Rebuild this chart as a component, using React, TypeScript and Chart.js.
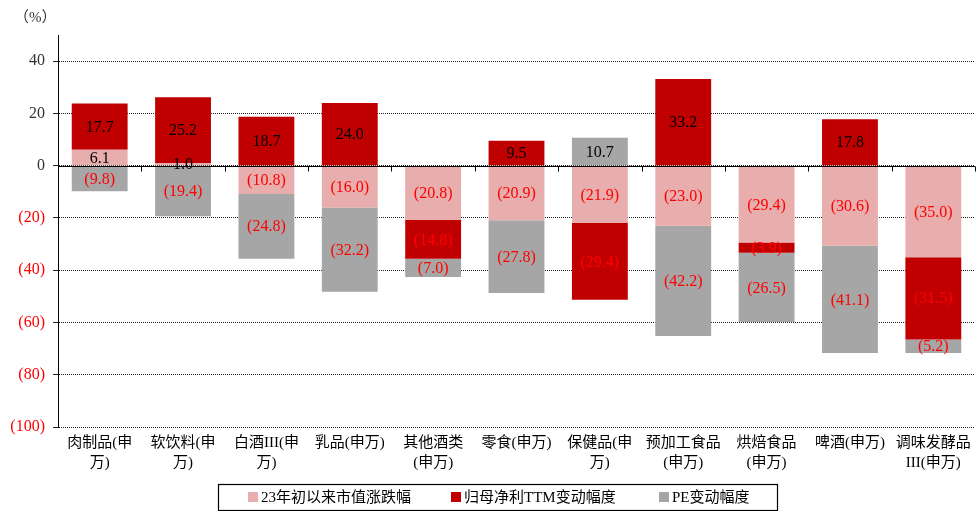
import React, { useEffect, useRef } from "react";
import { Chart, registerables } from "chart.js";

Chart.register(...registerables);

const categories: string[][] = [
  ["肉制品(申", "万)"],
  ["软饮料(申", "万)"],
  ["白酒III(申", "万)"],
  ["乳品(申万)"],
  ["其他酒类", "(申万)"],
  ["零食(申万)"],
  ["保健品(申", "万)"],
  ["预加工食品", "(申万)"],
  ["烘焙食品", "(申万)"],
  ["啤酒(申万)"],
  ["调味发酵品", "III(申万)"],
];

const marketCapChange = [6.1, 1.0, -10.8, -16.0, -20.8, -20.9, -21.9, -23.0, -29.4, -30.6, -35.0];
const netProfitTTMChange = [17.7, 25.2, 18.7, 24.0, -14.8, 9.5, -29.4, 33.2, -3.9, 17.8, -31.5];
const peChange = [-9.8, -19.4, -24.8, -32.2, -7.0, -27.8, 10.7, -42.2, -26.5, -41.1, -5.2];

const seriesNames = ["23年初以来市值涨跌幅", "归母净利TTM变动幅度", "PE变动幅度"];
const seriesColors = ["#E8ADAD", "#C00000", "#A6A6A6"];

const yMin = -100;
const yMax = 50;
const yStep = 20;

const FONT = '"Liberation Serif", "Noto Sans CJK SC", serif';
const NEG_RED = "#FF0000";

const fmt = (v: number, digits: number) =>
  v < 0 ? `(${Math.abs(v).toFixed(digits)})` : v.toFixed(digits);

const overlayPlugin = {
  id: "overlay",
  afterDatasetsDraw(chart: any) {
    const ctx = chart.ctx;
    const { left, right } = chart.chartArea;
    const yScale = chart.scales.y;
    const y0 = Math.round(yScale.getPixelForValue(0)) + 0.5;
    ctx.save();
    ctx.strokeStyle = "#000";
    ctx.lineWidth = 1;
    ctx.beginPath();
    ctx.moveTo(left, y0);
    ctx.lineTo(right, y0);
    const n = categories.length;
    const w = (right - left) / n;
    for (let i = 1; i <= n; i++) {
      const x = Math.round(left + i * w) + 0.5;
      ctx.moveTo(x, y0);
      ctx.lineTo(x, y0 + 5);
    }
    ctx.stroke();

    ctx.font = `16px ${FONT}`;
    ctx.textAlign = "center";
    ctx.textBaseline = "middle";
    chart.data.datasets.forEach((ds: any, di: number) => {
      const meta = chart.getDatasetMeta(di);
      meta.data.forEach((el: any, i: number) => {
        const v = ds.data[i] as number;
        const cy = (el.y + el.base) / 2;
        ctx.fillStyle = v < 0 ? NEG_RED : "#000";
        ctx.fillText(fmt(v, 1), el.x, cy + 1);
      });
    });
    ctx.restore();
  },
  afterDraw(chart: any) {
    const ctx = chart.ctx;
    ctx.save();
    ctx.font = `15px ${FONT}`;
    ctx.fillStyle = "#333";
    ctx.textAlign = "left";
    ctx.textBaseline = "middle";
    ctx.fillText("（%）", 14, 18);

    const bx = 218.5, by = 484.5, bw = 559, bh = 26;
    ctx.strokeStyle = "#000";
    ctx.lineWidth = 1.2;
    ctx.strokeRect(bx, by, bw, bh);
    const itemX = [248, 451, 659];
    ctx.font = `15px ${FONT}`;
    seriesNames.forEach((name, i) => {
      ctx.fillStyle = seriesColors[i];
      ctx.fillRect(itemX[i], 492, 10, 10);
      ctx.fillStyle = "#000";
      ctx.fillText(name, itemX[i] + 13, 498);
    });
    ctx.restore();
  },
};

export default function App() {
  const canvasRef = useRef<HTMLCanvasElement | null>(null);

  useEffect(() => {
    if (!canvasRef.current) return;
    const chart = new Chart(canvasRef.current, {
      type: "bar",
      data: {
        labels: categories,
        datasets: [marketCapChange, netProfitTTMChange, peChange].map((d, i) => ({
          label: seriesNames[i],
          data: d,
          backgroundColor: seriesColors[i],
          borderWidth: 0,
          categoryPercentage: 0.67,
          barPercentage: 1,
        })),
      },
      options: {
        animation: false,
        responsive: false,
        maintainAspectRatio: false,
        layout: { padding: { top: 35, right: 3, left: 0, bottom: 0 } },
        plugins: {
          legend: { display: false },
          tooltip: { enabled: false },
        },
        scales: {
          x: {
            stacked: true,
            grid: { display: false },
            border: { display: false },
            ticks: {
              color: "#000",
              font: { family: FONT, size: 15, lineHeight: 1.33 },
              padding: -2,
              maxRotation: 0,
              autoSkip: false,
            },
            afterFit: (s: any) => {
              s.height = 84;
            },
          },
          y: {
            stacked: true,
            min: yMin,
            max: yMax,
            afterBuildTicks: (s: any) => {
              const t: any[] = [];
              for (let v = yMin; v <= 40; v += yStep) t.push({ value: v });
              s.ticks = t;
            },
            grid: {
              color: "#222",
              lineWidth: 1,
              tickLength: 5,
            },
            border: { display: true, color: "#000", width: 1, dash: [1, 1] },
            ticks: {
              font: { family: FONT, size: 16 },
              color: (c: any) => (c.tick && c.tick.value < 0 ? NEG_RED : "#333"),
              callback: (v: any) => fmt(Number(v), 0),
              padding: 8,
            },
            afterFit: (s: any) => {
              s.width = 58;
            },
          },
        },
      },
      plugins: [overlayPlugin],
    } as any);
    return () => chart.destroy();
  }, []);

  return (
    <div style={{ position: "absolute", left: 0, top: 0, width: 978, height: 511, background: "#fff" }}>
      <canvas ref={canvasRef} width={978} height={511} style={{ width: 978, height: 511 }} />
    </div>
  );
}
